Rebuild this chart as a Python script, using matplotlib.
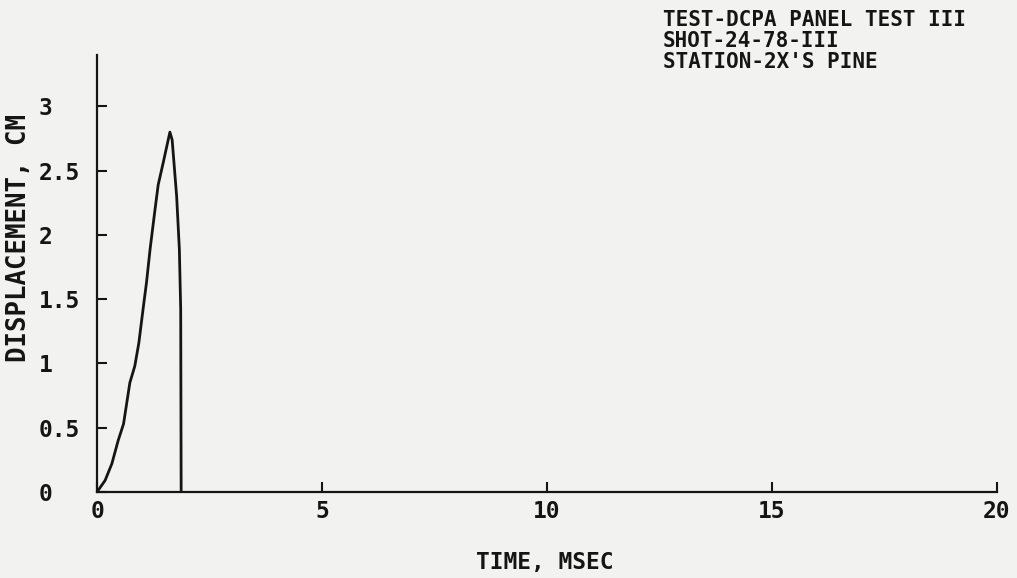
import numpy as np
import matplotlib.pyplot as plt

# ── Data ───────────────────────────────────────────────────────────────────────
time_ms = [0.00, 0.18, 0.33, 0.47, 0.59, 0.73, 0.84, 0.93, 1.03, 1.10, 1.18,
           1.29, 1.36, 1.47, 1.62, 1.67, 1.77, 1.83, 1.86, 1.87]
disp_cm = [0.00, 0.09, 0.22, 0.40, 0.53, 0.85, 0.98, 1.16, 1.44, 1.63, 1.89,
           2.20, 2.39, 2.56, 2.80, 2.74, 2.30, 1.89, 1.42, 0.00]

x_ticks = [0, 5, 10, 15, 20]
y_ticks = [0, 0.5, 1, 1.5, 2, 2.5, 3]
y_tick_labels = ["0", "0.5", "1", "1.5", "2", "2.5", "3"]

header = ["TEST-DCPA PANEL TEST III", "SHOT-24-78-III", "STATION-2X'S PINE"]

# ── Style ──────────────────────────────────────────────────────────────────────
PAPER = "#f2f2f0"
INK = "#151515"
FS = 16.5
plt.rcParams["font.family"] = "DejaVu Sans Mono"
plt.rcParams["font.weight"] = "bold"

W, H = 1017, 578
fig = plt.figure(figsize=(W / 100, H / 100), dpi=100, facecolor=PAPER)
ax = fig.add_axes([97 / W, 1 - 492 / H, 900 / W, (492 - 55) / H])
ax.set_facecolor(PAPER)

ax.plot(time_ms, disp_cm, color=INK, lw=2.0, solid_joinstyle="round")

ax.set_xlim(0, 20)
ax.set_ylim(0, 3.4)
for side in ("top", "right"):
    ax.spines[side].set_visible(False)
for side in ("left", "bottom"):
    ax.spines[side].set_color(INK)
    ax.spines[side].set_linewidth(1.6)

ax.set_xticks(x_ticks)
ax.set_xticklabels([str(v) for v in x_ticks])
ax.set_yticks(y_ticks)
ax.set_yticklabels(y_tick_labels)
ax.tick_params(axis="both", direction="in", color=INK, width=1.5, length=7,
               labelsize=FS, labelcolor=INK)
ax.tick_params(axis="y", pad=42)
ax.tick_params(axis="x", pad=6)
for lab in ax.get_yticklabels():
    lab.set_horizontalalignment("left")

fig.text(19 / W, 1 - 238 / H, "DISPLACEMENT, CM", rotation=90, ha="center",
         va="center", fontsize=18.5, color=INK)
fig.text(545 / W, 1 - 563 / H, "TIME, MSEC", ha="center", va="center",
         fontsize=FS, color=INK)
# three header lines, placed one by one so they keep the tight pitch
for line, base in zip(header, [26, 47, 68]):
    fig.text(663 / W, 1 - base / H, line, ha="left", va="baseline",
             fontsize=15, color=INK)

fig.savefig("out.png", dpi=100, facecolor=PAPER)
